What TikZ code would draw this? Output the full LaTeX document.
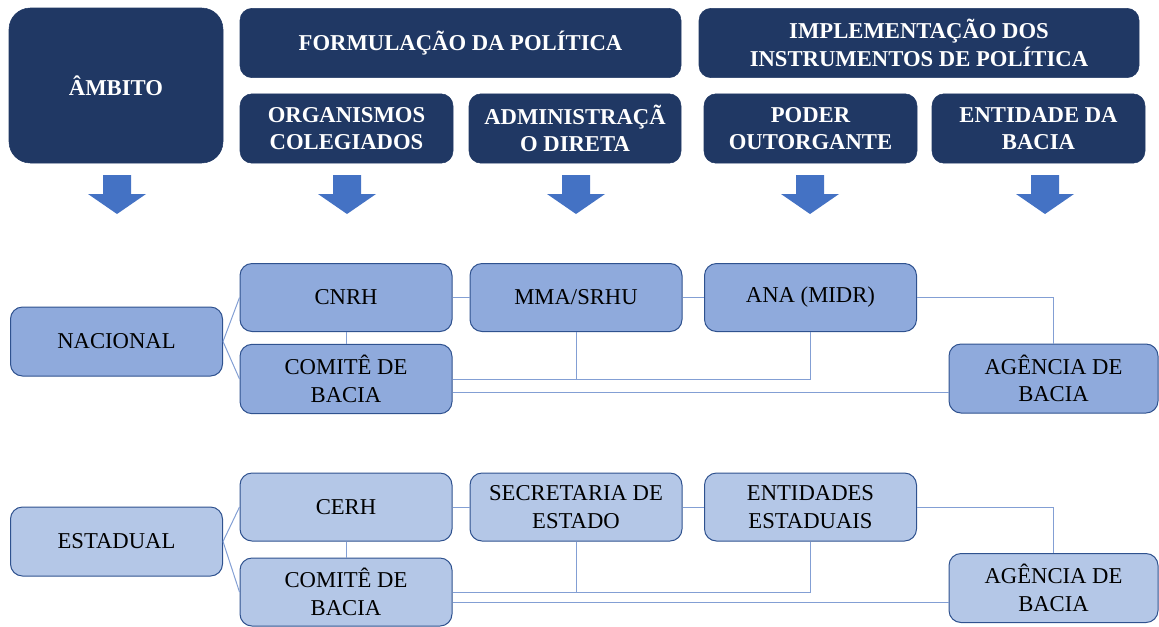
\documentclass[tikz,border=0pt]{standalone}
\usepackage{fontspec}
\setmainfont{Liberation Serif}
\usetikzlibrary{calc}
\definecolor{navy}{HTML}{203864}
\definecolor{nacfill}{HTML}{8FAADC}
\definecolor{estfill}{HTML}{B4C7E7}
\definecolor{boxline}{HTML}{2F528F}
\definecolor{linkline}{HTML}{839FD4}
\definecolor{arrowblue}{HTML}{4472C4}

\begin{document}
\begin{tikzpicture}[x=0.75pt,y=-0.75pt,
  headbox/.style={draw=navy,fill=navy,rounded corners=9pt,text=white,
    font=\bfseries\fontsize{17}{20.5}\selectfont,align=center,inner sep=0pt},
  nacbox/.style={draw=boxline,fill=nacfill,rounded corners=9pt,line width=0.75pt,
    font=\fontsize{17}{20.5}\selectfont,align=center,inner sep=0pt,
    minimum width=159pt,minimum height=51pt},
  estbox/.style={nacbox,fill=estfill},
  link/.style={draw=linkline,line width=0.75pt}]
\useasboundingbox (0,0) rectangle (1159,626);

% cabecalho
\node[headbox,minimum width=160.5pt,minimum height=116.25pt,rounded corners=16pt] (ambito) at (116,85.5) {ÂMBITO};
\node[headbox,minimum width=330.75pt,minimum height=52pt] (formul) at (460.5,43) {FORMULAÇÃO DA POLÍTICA};
\node[headbox,minimum width=330pt,minimum height=52pt] (implem) at (919,43) {IMPLEMENTAÇÃO DOS\\INSTRUMENTOS DE POLÍTICA};
\node[headbox,minimum width=159.75pt,minimum height=52pt] (organ) at (346.5,128.5) {ORGANISMOS\\COLEGIADOS};
\node[headbox,minimum width=159pt,minimum height=52pt] (admin) at (575,128.5) {ADMINISTRAÇÃ\\O DIRETA};
\node[headbox,minimum width=159.75pt,minimum height=52pt] (poder) at (810.5,128.5) {PODER\\OUTORGANTE};
\node[headbox,minimum width=159.75pt,minimum height=52pt] (entid) at (1038.5,128.5) {ENTIDADE DA\\BACIA};

% setas
\foreach \x in {117,347,576,810,1045}{
\fill[arrowblue] (\x-14,175) -- (\x+14,175) -- (\x+14,194) -- (\x+29,194)
  -- (\x,214) -- (\x-29,194) -- (\x-14,194) -- cycle;
}

% nacional
\node[nacbox,minimum height=51.75pt] (nac) at (116.5,341.5) {NACIONAL};
\node[nacbox] (cnrh) at (346,297.5) {CNRH};
\node[nacbox,minimum height=52pt] (comN) at (346,379) {COMITÊ DE\\BACIA};
\node[nacbox] (mma) at (576,297.5) {MMA/SRHU};
\node[nacbox] (ana) at (810.5,297.5) {ANA (MIDR)};
\node[nacbox,minimum width=156.75pt,minimum height=51.75pt] (agN) at (1053.5,378.5) {AGÊNCIA DE\\BACIA};

\draw[link] (nac.east) -- (cnrh.west);
\draw[link] (nac.east) -- (comN.west);
\draw[link] (cnrh.south) -- (comN.north);
\draw[link] (cnrh.east) -- (mma.west);
\draw[link] (mma.east) -- (ana.west);
\draw[link] (ana.east) -| (agN.north);
\draw[link] (mma.south) -- (mma.south |- comN.east);
\draw[link] (comN.east) -| (ana.south);
\coordinate (agNin) at ($(agN.west)+(0,14)$);
\draw[link] (agNin) -- (agNin -| comN.east);

% estadual
\node[estbox,minimum height=51.75pt] (est) at (116.5,541.5) {ESTADUAL};
\node[estbox] (cerh) at (346,507) {CERH};
\node[estbox] (comE) at (346,592) {COMITÊ DE\\BACIA};
\node[estbox] (sec) at (576,507) {SECRETARIA DE\\ESTADO};
\node[estbox] (ent) at (810.5,507) {ENTIDADES\\ESTADUAIS};
\node[estbox,minimum width=156.75pt,minimum height=51.75pt] (agE) at (1053.5,588) {AGÊNCIA DE\\BACIA};

\draw[link] (est.east) -- (cerh.west);
\draw[link] (est.east) -- (comE.west);
\draw[link] (cerh.south) -- (comE.north);
\draw[link] (cerh.east) -- (sec.west);
\draw[link] (sec.east) -- (ent.west);
\draw[link] (ent.east) -| (agE.north);
\draw[link] (sec.south) -- (sec.south |- comE.east);
\draw[link] (comE.east) -| (ent.south);
\coordinate (agEin) at ($(agE.west)+(0,14)$);
\draw[link] (agEin) -- (agEin -| comE.east);
\end{tikzpicture}
\end{document}
